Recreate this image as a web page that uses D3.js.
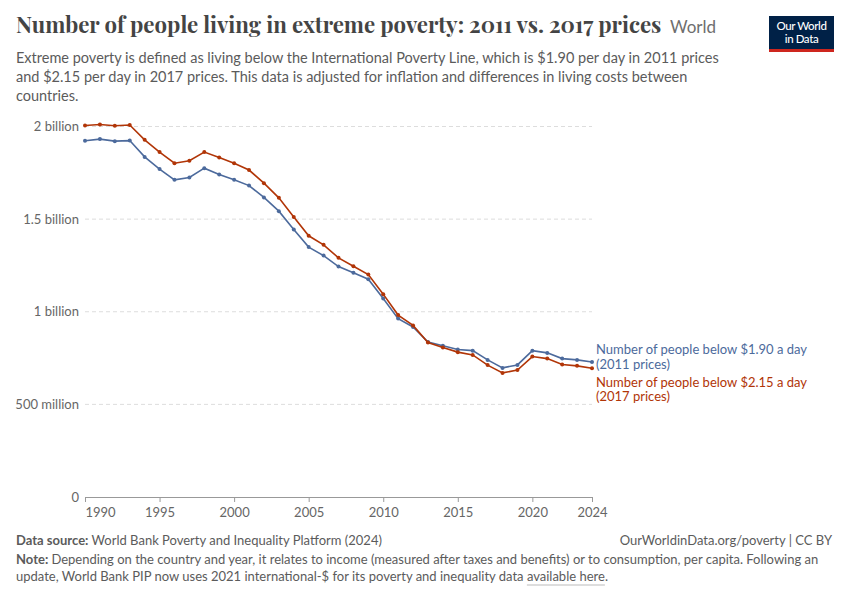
<!DOCTYPE html>
<html>
<head>
<meta charset="utf-8">
<script src="https://cdn.jsdelivr.net/npm/d3@7"></script>
<style>
  body { margin: 0; background: #fff; }
  svg { display: block; font-family: Lato, "Noto Sans", sans-serif; }
</style>
</head>
<body>
<div id="chart"></div>
<script>
// years and values (millions of people)
const years = [1990, 1991, 1992, 1993, 1994, 1995, 1996, 1997, 1998, 1999,
  2000, 2001, 2002, 2003, 2004, 2005, 2006, 2007, 2008, 2009,
  2010, 2011, 2012, 2013, 2014, 2015, 2016, 2017, 2018, 2019,
  2020, 2021, 2022, 2023, 2024]
const below190 = [1923, 1932, 1921, 1924, 1836, 1770, 1712, 1725, 1775, 1741,
  1712, 1681, 1617, 1543, 1444, 1349, 1303, 1244, 1210, 1176,
  1071, 963, 918, 837, 816, 796, 790, 740, 697, 713,
  790, 778, 747, 740, 729]
const below215 = [2005, 2011, 2004, 2008, 1928, 1862, 1802, 1815, 1862, 1833,
  1802, 1765, 1694, 1615, 1511, 1410, 1361, 1291, 1246, 1201,
  1095, 982, 926, 834, 807, 782, 767, 712, 670, 685,
  758, 747, 715, 708, 695]
const yTicks = [0, 500, 1000, 1500, 2000]
const yTickLabels = ['0', '500 million', '1 billion', '1.5 billion', '2 billion']
const xTicks = [1990, 1995, 2000, 2005, 2010, 2015, 2020, 2024]

const width = 850
const height = 600

const series = [
  { name: 'below190', values: below190, color: '#4c6a9c',
    label: ['Number of people below $1.90 a day', '(2011 prices)'] },
  { name: 'below215', values: below215, color: '#b13507',
    label: ['Number of people below $2.15 a day', '(2017 prices)'] }
]

const svg = d3.select('#chart').append('svg')
  .attr('width', width)
  .attr('height', height)

const x = d3.scaleLinear().domain([1990, 2024]).range([85, 592])
const y = d3.scaleLinear().domain([0, 2000]).range([497, 126.5])

// header: fit the serif title to the reference width
const title = svg.append('text')
  .attr('x', 16)
  .attr('y', 33)
  .attr('font-family', '"Playfair Display", "Liberation Serif", serif')
  .attr('font-weight', 700)
  .attr('font-size', 25)
  .attr('fill', '#444')
  .text('Number of people living in extreme poverty: 2011 vs. 2017 prices')
const tw = title.node().getComputedTextLength()
title.attr('font-size', 25 * 646 / tw)

svg.append('text')
  .attr('x', 670)
  .attr('y', 33)
  .attr('font-size', 17)
  .attr('fill', '#6e6e6e')
  .text('World')

const subtitle = [
  'Extreme poverty is defined as living below the International Poverty Line, which is $1.90 per day in 2011 prices',
  'and $2.15 per day in 2017 prices. This data is adjusted for inflation and differences in living costs between',
  'countries.'
]
svg.append('g')
  .selectAll('text')
  .data(subtitle)
  .join('text')
  .attr('x', 16)
  .attr('y', (d, i) => 63 + i * 19)
  .attr('font-size', 14.5)
  .attr('fill', '#5b5b5b')
  .text((d) => d)

// logo
const logo = svg.append('g').attr('transform', 'translate(769,16)')
logo.append('rect').attr('width', 65).attr('height', 36).attr('fill', '#002147')
logo.append('rect').attr('y', 33).attr('width', 65).attr('height', 3).attr('fill', '#ce261e')
logo.selectAll('text')
  .data(['Our World', 'in Data'])
  .join('text')
  .attr('x', 32.5)
  .attr('y', (d, i) => 14 + i * 12.5)
  .attr('text-anchor', 'middle')
  .attr('font-size', 11.5)
  .attr('font-weight', 500)
  .attr('letter-spacing', -0.4)
  .attr('fill', '#fff')
  .text((d) => d)

// grid + y labels
const grid = svg.append('g')
grid.selectAll('line')
  .data(yTicks.filter((d) => d > 0))
  .join('line')
  .attr('x1', x(1990))
  .attr('x2', x(2024))
  .attr('y1', (d) => y(d))
  .attr('y2', (d) => y(d))
  .attr('stroke', '#dddddd')
  .attr('stroke-dasharray', '4,3')

grid.selectAll('text')
  .data(yTicks)
  .join('text')
  .attr('x', 79)
  .attr('y', (d) => y(d))
  .attr('dy', '0.35em')
  .attr('text-anchor', 'end')
  .attr('font-size', 13)
  .attr('fill', '#666')
  .text((d, i) => yTickLabels[i])

// x axis
const xAxis = svg.append('g')
  .attr('transform', `translate(0,${y(0)})`)
  .call(d3.axisBottom(x).tickValues(xTicks).tickFormat(d3.format('d')).tickSize(5).tickSizeOuter(0))
xAxis.select('.domain').attr('stroke', '#999')
xAxis.selectAll('.tick line').attr('stroke', '#999')
xAxis.selectAll('.tick text')
  .attr('font-family', 'Lato, sans-serif')
  .attr('font-size', 13)
  .attr('fill', '#666')
  .attr('dy', '0.95em')
  .attr('text-anchor', (d) => (d === 1990 ? 'start' : 'middle'))

// lines
const line = d3.line()
  .x((d, i) => x(years[i]))
  .y((d) => y(d))

const lines = svg.append('g')
series.forEach((s) => {
  const g = lines.append('g')
  g.append('path')
    .datum(s.values)
    .attr('fill', 'none')
    .attr('stroke', s.color)
    .attr('stroke-width', 1.6)
    .attr('d', line)
  g.selectAll('circle')
    .data(s.values)
    .join('circle')
    .attr('cx', (d, i) => x(years[i]))
    .attr('cy', (d) => y(d))
    .attr('r', 2)
    .attr('fill', s.color)
})

// end labels
const labelY = [349.5, 382]
series.forEach((s, k) => {
  svg.append('g')
    .selectAll('text')
    .data(s.label)
    .join('text')
    .attr('x', 596)
    .attr('y', (d, i) => labelY[k] + i * 14.5)
    .attr('dy', '0.35em')
    .attr('font-size', 13)
    .attr('fill', s.color)
    .text((d) => d)
})

// footer
const foot = svg.append('g').attr('font-size', 13).attr('fill', '#5b5b5b')
const src = foot.append('text').attr('x', 16).attr('y', 545)
src.append('tspan').attr('font-weight', 700).text('Data source: ')
src.append('tspan').text('World Bank Poverty and Inequality Platform (2024)')

foot.append('text')
  .attr('x', 832)
  .attr('y', 545)
  .attr('text-anchor', 'end')
  .text('OurWorldinData.org/poverty | CC BY')

const note1 = foot.append('text').attr('x', 16).attr('y', 564)
note1.append('tspan').attr('font-weight', 700).text('Note: ')
note1.append('tspan').text('Depending on the country and year, it relates to income (measured after taxes and benefits) or to consumption, per capita. Following an')

const note2 = foot.append('text').attr('x', 16).attr('y', 581)
note2.append('tspan').text('update, World Bank PIP now uses 2021 international-$ for its poverty and inequality data ')
note2.append('tspan').text('available here')
note2.append('tspan').text('.')

// underline under the link
const n2 = note2.node()
const full = note2.text()
const idx = full.indexOf('available here')
const x0 = 16 + n2.getSubStringLength(0, idx)
const x1 = x0 + n2.getSubStringLength(idx, 'available here'.length)
foot.append('line')
  .attr('x1', x0).attr('x2', x1)
  .attr('y1', 585).attr('y2', 585)
  .attr('stroke', '#bbb')
  .attr('stroke-width', 1)
</script>
</body>
</html>
